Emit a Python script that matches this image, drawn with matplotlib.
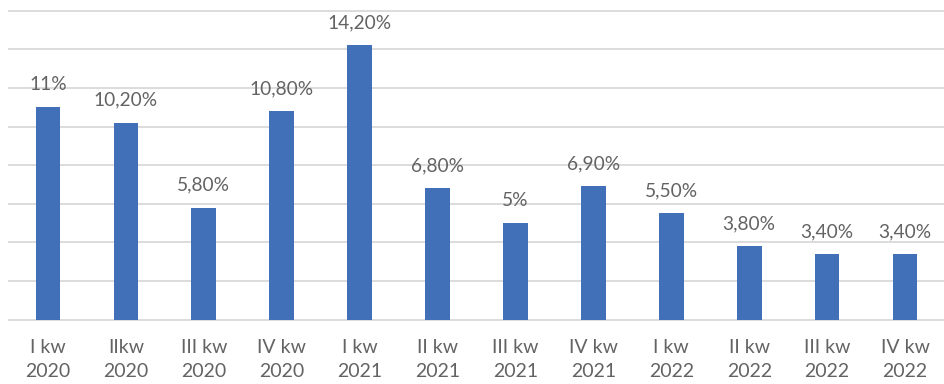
import matplotlib
matplotlib.use("Agg")
import matplotlib.pyplot as plt
import numpy as np

# Quarterly growth rates (%)
categories = ["I kw\n2020", "IIkw\n2020", "III kw\n2020", "IV kw\n2020",
              "I kw\n2021", "II kw\n2021", "III kw\n2021", "IV kw\n2021",
              "I kw\n2022", "II kw\n2022", "III kw\n2022", "IV kw\n2022"]
values = [11, 10.2, 5.8, 10.8, 14.2, 6.8, 5, 6.9, 5.5, 3.8, 3.4, 3.4]

BAR = "#4170B8"
TEXT = "#636363"
GRID = "#D9D9D9"
FONT = ["Lato", "DejaVu Sans"]


def fmt(v):
    if float(v).is_integer():
        return f"{int(v)}%"
    return f"{v:.2f}%".replace(".", ",")


fig = plt.figure(figsize=(9.44, 3.84), dpi=100)
ax = fig.add_axes([9 / 944, 64.3 / 384, 935 / 944, (384 - 64.3 - 10.7) / 384])

x = np.arange(len(values))
ax.bar(x, values, width=0.317, color=BAR, zorder=3)

for xi, v in zip(x, values):
    ax.annotate(fmt(v), (xi, v), xytext=(0, 10), textcoords="offset points",
                ha="center", va="bottom", fontsize=13.8, color=TEXT,
                family=FONT)

ax.set_xlim(-0.5, len(values) - 0.5)
ax.set_ylim(0, 16)
ax.set_yticks(np.arange(0, 17, 2))
ax.yaxis.grid(True, color=GRID, linewidth=1.3, zorder=0)
for gl in ax.yaxis.get_gridlines():
    gl.set_clip_on(False)
ax.set_yticklabels([])
ax.tick_params(axis="y", length=0)

ax.set_xticks(x)
ax.set_xticklabels(categories, fontsize=14, color=TEXT, family=FONT,
                   linespacing=1.5)
ax.tick_params(axis="x", length=0, pad=14)

for s in ax.spines.values():
    s.set_visible(False)

fig.savefig("out.png", dpi=100, facecolor="white")
